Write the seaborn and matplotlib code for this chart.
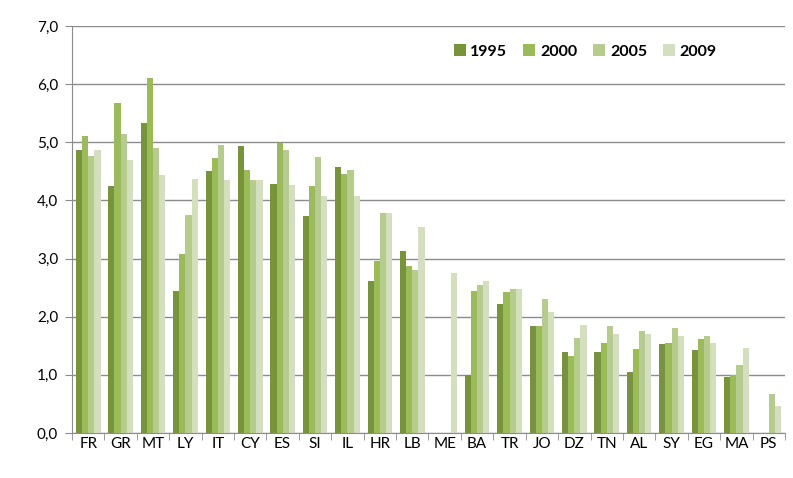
import numpy as np
import pandas as pd
import matplotlib
matplotlib.use("Agg")
import matplotlib.pyplot as plt
import seaborn as sns
from matplotlib.ticker import FuncFormatter, MultipleLocator, FixedLocator

countries = ['FR', 'GR', 'MT', 'LY', 'IT', 'CY', 'ES', 'SI', 'IL', 'HR', 'LB',
             'ME', 'BA', 'TR', 'JO', 'DZ', 'TN', 'AL', 'SY', 'EG', 'MA', 'PS']
years = ['1995', '2000', '2005', '2009']

v1995 = [4.87, 4.25, 5.33, 2.45, 4.50, 4.93, 4.28, 3.73, 4.57, 2.62, 3.13,
         np.nan, 1.00, 2.22, 1.84, 1.40, 1.39, 1.05, 1.53, 1.43, 0.97, np.nan]
v2000 = [5.10, 5.68, 6.10, 3.08, 4.73, 4.53, 4.98, 4.24, 4.45, 2.95, 2.88,
         np.nan, 2.45, 2.42, 1.84, 1.33, 1.55, 1.45, 1.55, 1.62, 1.00, np.nan]
v2005 = [4.77, 5.15, 4.90, 3.75, 4.95, 4.35, 4.87, 4.75, 4.52, 3.78, 2.80,
         np.nan, 2.55, 2.47, 2.30, 1.63, 1.84, 1.76, 1.80, 1.67, 1.17, 0.67]
v2009 = [4.87, 4.70, 4.43, 4.37, 4.35, 4.35, 4.27, 4.08, 4.07, 3.78, 3.55,
         2.75, 2.62, 2.48, 2.08, 1.85, 1.71, 1.70, 1.66, 1.55, 1.47, 0.47]

colors = ['#77933C', '#9BBB59', '#B5CC8E', '#D3DFBE']

df = pd.DataFrame({'country': countries * 4,
                   'year': [y for y in years for _ in countries],
                   'value': v1995 + v2000 + v2005 + v2009})

plt.rcParams['font.family'] = ['Lato', 'DejaVu Sans']

fig = plt.figure(figsize=(7.93, 4.78), dpi=100)
ax = fig.add_axes([72 / 793, 1 - 433 / 478, 713 / 793, 407 / 478])

sns.barplot(data=df, x='country', y='value', hue='year', hue_order=years,
            order=countries, palette=colors, width=0.76, gap=0,
            saturation=1, ax=ax, linewidth=0, legend=True)

ax.set_ylim(0, 7)
ax.set_xlim(-0.5, len(countries) - 0.5)
ax.yaxis.set_major_locator(MultipleLocator(1))
ax.yaxis.set_major_formatter(FuncFormatter(lambda v, p: f"{v:.1f}".replace('.', ',')))
ax.grid(axis='y', color='#8c8c8c', linewidth=1)
ax.set_axisbelow(True)

ax.xaxis.set_minor_locator(FixedLocator(np.arange(-0.5, len(countries), 1)))
ax.tick_params(axis='x', which='major', length=0, pad=3, labelsize=11)
ax.tick_params(axis='x', which='minor', length=5, color='#8c8c8c', direction='out')
ax.tick_params(axis='y', length=5, color='#8c8c8c', labelsize=11, pad=5)

for side in ['top', 'right']:
    ax.spines[side].set_visible(False)
for side in ['left', 'bottom']:
    ax.spines[side].set_color('#8c8c8c')
ax.set_xlabel('')
ax.set_ylabel('')

leg = ax.legend(loc='upper left', bbox_to_anchor=(0.515, 0.99), ncol=4, frameon=False,
                handlelength=0.75, handleheight=0.75, handletextpad=0.3, columnspacing=1.0,
                prop={'weight': 'bold', 'size': 11.5})

fig.savefig('out.png', dpi=100)
